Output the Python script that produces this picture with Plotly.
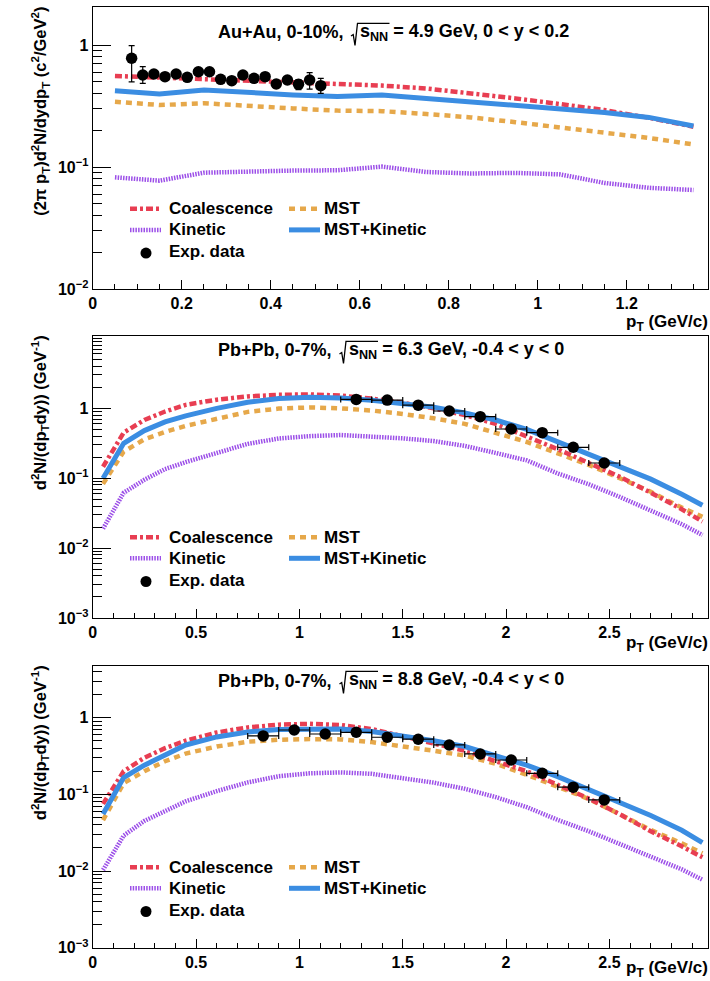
import math
import plotly.graph_objects as go

W, H = 710, 981

# ---------------- Au+Au, 0-10%, 4.9 GeV ----------------
pt_au = [0.05, 0.15, 0.25, 0.35, 0.45, 0.55, 0.65, 0.75, 0.85, 0.95, 1.05, 1.15, 1.25, 1.35]
coal_au = [0.557, 0.54, 0.53, 0.51, 0.495, 0.48, 0.465, 0.44, 0.405, 0.365, 0.328, 0.293, 0.253, 0.214]
mst_au = [0.343, 0.322, 0.333, 0.315, 0.302, 0.29, 0.287, 0.272, 0.255, 0.233, 0.212, 0.192, 0.173, 0.153]
kin_au = [0.0823, 0.0773, 0.0898, 0.092, 0.0935, 0.094, 0.1007, 0.091, 0.0885, 0.0895, 0.087, 0.074, 0.0675, 0.0648]
mstkin_au = [0.422, 0.397, 0.428, 0.405, 0.39, 0.378, 0.39, 0.365, 0.342, 0.322, 0.302, 0.28, 0.255, 0.217]

data_pt_au = [0.0875, 0.1125, 0.1375, 0.1625, 0.1875, 0.2125, 0.2375, 0.2625, 0.2875,
              0.3125, 0.3375, 0.3625, 0.3875, 0.4125, 0.4375, 0.4625, 0.4875, 0.5125]
data_y_au = [0.778, 0.568, 0.578, 0.55, 0.578, 0.543, 0.604, 0.604, 0.523,
             0.51, 0.568, 0.533, 0.55, 0.479, 0.517, 0.476, 0.517, 0.464]
data_eup_au = [0.21, 0.096, 0.035, 0.035, 0.035, 0.035, 0.04, 0.04, 0.035,
               0.035, 0.035, 0.035, 0.035, 0.035, 0.035, 0.045, 0.076, 0.069]
data_edn_au = [0.28, 0.083, 0.035, 0.035, 0.035, 0.035, 0.04, 0.04, 0.035,
               0.035, 0.035, 0.035, 0.035, 0.035, 0.035, 0.045, 0.083, 0.062]

# ---------------- Pb+Pb spectra model grid ----------------
pt_pb = [0.05, 0.15, 0.25, 0.35, 0.45, 0.6, 0.75, 0.9, 1.05, 1.2, 1.35, 1.5, 1.65,
         1.8, 1.95, 2.1, 2.25, 2.4, 2.55, 2.7, 2.85, 2.95]

# Pb+Pb, 0-7%, 6.3 GeV
coal_63 = [0.146, 0.45, 0.68, 0.9, 1.12, 1.33, 1.48, 1.56, 1.58, 1.52, 1.38, 1.2, 1.0,
           0.8, 0.6, 0.4, 0.26, 0.165, 0.105, 0.062, 0.036, 0.024]
mst_63 = [0.083, 0.24, 0.36, 0.46, 0.56, 0.7, 0.89, 0.99, 1.03, 1.0, 0.93, 0.83, 0.72,
          0.6, 0.45, 0.33, 0.227, 0.155, 0.1, 0.064, 0.038, 0.028]
kin_63 = [0.019, 0.062, 0.095, 0.135, 0.17, 0.23, 0.31, 0.37, 0.4, 0.415, 0.4, 0.372, 0.34,
          0.29, 0.23, 0.18, 0.117, 0.082, 0.054, 0.035, 0.022, 0.0154]
mstkin_63 = [0.1, 0.316, 0.48, 0.64, 0.78, 1.0, 1.22, 1.38, 1.44, 1.4, 1.3, 1.18, 1.04,
             0.86, 0.68, 0.5, 0.333, 0.225, 0.148, 0.097, 0.059, 0.041]
data_pt_63 = [1.275, 1.425, 1.575, 1.725, 1.875, 2.025, 2.175, 2.325, 2.475]
data_y_63 = [1.34, 1.31, 1.11, 0.915, 0.759, 0.506, 0.448, 0.277, 0.165]
data_ey_63 = [0.05, 0.05, 0.04, 0.035, 0.03, 0.02, 0.02, 0.012, 0.008]

# Pb+Pb, 0-7%, 8.8 GeV
coal_88 = [0.075, 0.2, 0.3, 0.4, 0.5, 0.64, 0.745, 0.81, 0.83, 0.8, 0.71, 0.57, 0.46,
           0.37, 0.27, 0.2, 0.133, 0.088, 0.055, 0.033, 0.021, 0.0151]
mst_88 = [0.046, 0.14, 0.2, 0.27, 0.34, 0.42, 0.485, 0.515, 0.525, 0.52, 0.48, 0.425, 0.37,
          0.32, 0.25, 0.18, 0.126, 0.087, 0.055, 0.0343, 0.023, 0.017]
kin_88 = [0.0103, 0.029, 0.045, 0.06, 0.081, 0.11, 0.143, 0.172, 0.188, 0.193, 0.185, 0.162, 0.142,
          0.118, 0.092, 0.068, 0.0464, 0.033, 0.0225, 0.0154, 0.0105, 0.0077]
mstkin_88 = [0.0555, 0.165, 0.24, 0.33, 0.44, 0.56, 0.65, 0.7, 0.715, 0.71, 0.66, 0.577, 0.5,
             0.42, 0.32, 0.24, 0.17, 0.116, 0.078, 0.053, 0.034, 0.0235]
data_pt_88 = [0.825, 0.975, 1.125, 1.275, 1.425, 1.575, 1.725, 1.875, 2.025, 2.175, 2.325, 2.475]
data_y_88 = [0.577, 0.69, 0.612, 0.644, 0.555, 0.523, 0.44, 0.336, 0.28, 0.188, 0.124, 0.0845]
data_ey_88 = [0.025, 0.03, 0.025, 0.025, 0.022, 0.02, 0.017, 0.013, 0.011, 0.008, 0.005, 0.004]

dx_bin = 0.075

# panel labels: system/centrality prefix, then the energy/rapidity part after the radical
title_prefix = ["Au+Au, 0-10%,", "Pb+Pb, 0-7%,", "Pb+Pb, 0-7%,"]
title_suffix = [
    "s<sub>NN</sub> = 4.9 GeV, 0 &lt; y &lt; 0.2",
    "s<sub>NN</sub> = 6.3 GeV, -0.4 &lt; y &lt; 0",
    "s<sub>NN</sub> = 8.8 GeV, -0.4 &lt; y &lt; 0",
]
ytitles = [
    "(2π p<sub>T</sub>)d<sup>2</sup>N/dydp<sub>T</sub> (c<sup>2</sup>/GeV<sup>2</sup>)",
    "d<sup>2</sup>N/(dp<sub>T</sub>dy)) (GeV<sup>-1</sup>)",
    "d<sup>2</sup>N/(dp<sub>T</sub>dy)) (GeV<sup>-1</sup>)",
]
xtitle = "p<sub>T</sub> (GeV/c)"
legend_names = ["Coalescence", "MST", "Kinetic", "MST+Kinetic", "Exp. data"]

# styles
FONT = "Liberation Sans, Arial, sans-serif"
C_COAL = "#E83E52"
C_MST = "#E6A84A"
C_KIN = "#9C4FE8"
C_MK = "#3B8DE2"
STY = {
    "coal": dict(color=C_COAL, width=4.5, dash="7px,3px,3px,3px"),
    "mst": dict(color=C_MST, width=4.5, dash="6px,5px"),
    "kin": dict(color=C_KIN, width=4.5, dash="1.5px,1.2px"),
    "mk": dict(color=C_MK, width=5),
}

# frame geometry in pixels
XL, XR = 92.7, 708.0
TOPS = [7.3, 335.7, 665.7]
BOTS = [289.0, 618.0, 947.7]


def px(x):
    return x / W


def py(y):
    return 1 - y / H


fig = go.Figure()

panels = [
    dict(pt=pt_au, coal=coal_au, mst=mst_au, kin=kin_au, mk=mstkin_au,
         dpt=data_pt_au, dy=data_y_au, xerr=None,
         yerr=dict(type="data", array=data_eup_au, arrayminus=data_edn_au, symmetric=False)),
    dict(pt=pt_pb, coal=coal_63, mst=mst_63, kin=kin_63, mk=mstkin_63,
         dpt=data_pt_63, dy=data_y_63, xerr=[dx_bin] * len(data_pt_63),
         yerr=dict(type="data", array=data_ey_63)),
    dict(pt=pt_pb, coal=coal_88, mst=mst_88, kin=kin_88, mk=mstkin_88,
         dpt=data_pt_88, dy=data_y_88, xerr=[dx_bin] * len(data_pt_88),
         yerr=dict(type="data", array=data_ey_88)),
]

for i, p in enumerate(panels):
    xa = "x" if i == 0 else f"x{i+1}"
    ya = "y" if i == 0 else f"y{i+1}"
    for key, name in [("kin", "Kinetic"), ("mst", "MST"), ("coal", "Coalescence"), ("mk", "MST+Kinetic")]:
        fig.add_trace(go.Scatter(x=p["pt"], y=p[key], mode="lines", name=name,
                                 line=STY[key], xaxis=xa, yaxis=ya, showlegend=False))
    yerr = dict(p["yerr"], color="black", thickness=1.2, width=3)
    kw = dict(error_y=yerr)
    if p["xerr"] is not None:
        kw["error_x"] = dict(type="data", array=p["xerr"], color="black", thickness=1.2, width=3)
    fig.add_trace(go.Scatter(x=p["dpt"], y=p["dy"], mode="markers", name="Exp. data",
                             marker=dict(color="black", size=11.5), xaxis=xa, yaxis=ya,
                             showlegend=False, **kw))

tickfont = dict(family=FONT, size=16, color="black", weight="bold")


def log_ticks(lo, hi):
    major, minor = [], []
    for e in range(lo, hi + 1):
        major.append(10.0 ** e)
        for m in range(2, 10):
            minor.append(m * 10.0 ** e)
    return major, minor


def sup_label(v):
    if v == 1:
        return "1"
    e = round(math.log10(v))
    return f"10<sup>−{-e}</sup>"


xranges = [[0, 1.3827], [0, 2.977], [0, 2.977]]
xdt = [0.2, 0.5, 0.5]
xminor = [0.05, 0.1, 0.1]
yranges = [[-2, 0.309], [-3, 1.039], [-3, 0.677]]

layout = dict(width=W, height=H, margin=dict(l=0, r=0, t=0, b=0),
              paper_bgcolor="white", plot_bgcolor="white", template="none",
              showlegend=False)

for i in range(3):
    sx = "" if i == 0 else str(i + 1)
    ydom = [py(BOTS[i]), py(TOPS[i])]
    layout[f"xaxis{sx}"] = dict(
        domain=[px(XL), px(XR)], range=xranges[i], anchor=f"y{sx}",
        showline=True, linecolor="black", linewidth=1, mirror=True,
        showgrid=False, zeroline=False, ticks="inside", ticklen=9, tickwidth=1,
        tickcolor="black", dtick=xdt[i], tick0=0, tickfont=tickfont,
        minor=dict(ticks="inside", dtick=xminor[i], tick0=0, ticklen=5, tickwidth=1, tickcolor="black"),
        automargin=False,
    )
    lo, hi = yranges[i]
    major, minor = log_ticks(int(lo), 0)
    minor = [m for m in minor if m <= 10 ** hi] + ([10.0] if hi > 1 else [])
    layout[f"yaxis{sx}"] = dict(
        domain=ydom, type="log", range=yranges[i], anchor=f"x{sx}",
        showline=True, linecolor="black", linewidth=1, mirror=True,
        showgrid=False, zeroline=False, ticks="inside", ticklen=18, tickwidth=1,
        tickcolor="black", tickmode="array", tickvals=major,
        ticktext=[sup_label(v) for v in major], tickfont=tickfont,
        minor=dict(ticks="inside", tickmode="array", tickvals=minor, ticklen=9, tickwidth=1,
                   tickcolor="black"),
        automargin=False,
    )

fig.update_layout(**layout)

annotations = []
shapes = []
title_y = [32.5, 350.5, 680.5]
# x position of the radical sign and of the text beneath it, per panel
rad_x = [351.0, 339.5, 339.5]
s_x = [358.0, 346.5, 346.5]
row_off = [201.5, 222.6, 244.3]
xtitle_off = [33.5, 26, 21.5]
title_font = dict(family=FONT, size=18, color="black", weight="bold")
leg_font = dict(family=FONT, size=17, color="black", weight="bold")


def path_paper(points):
    segs = []
    for k, (x, y) in enumerate(points):
        segs.append(("M" if k == 0 else "L") + f"{px(x):.5f},{py(y):.5f}")
    return " ".join(segs)


for i in range(3):
    T = TOPS[i]
    ty = title_y[i]
    annotations.append(dict(text=title_prefix[i], x=px(216), y=py(ty), xref="paper", yref="paper",
                            xanchor="left", yanchor="middle", showarrow=False, font=title_font))
    annotations.append(dict(text=title_suffix[i], x=px(s_x[i]), y=py(ty), xref="paper", yref="paper",
                            xanchor="left", yanchor="middle", showarrow=False, font=title_font))
    # square-root sign with its bar over s_NN
    r0 = rad_x[i]
    shapes.append(dict(type="path", xref="paper", yref="paper",
                       path=path_paper([(r0, ty + 3.5), (r0 + 2.2, ty + 2.0), (r0 + 4.0, ty + 13.0),
                                        (r0 + 6.5, ty - 9.2), (s_x[i] + 31.5, ty - 9.2)]),
                       line=dict(color="black", width=1.3)))
    annotations.append(dict(text=ytitles[i], x=px(40), y=py(T - 2), xref="paper", yref="paper",
                            xanchor="center", yanchor="top", textangle=-90, showarrow=False,
                            font=dict(family=FONT, size=16.5, color="black", weight="bold")))
    annotations.append(dict(text=xtitle, x=px(709), y=py(BOTS[i] + xtitle_off[i]), xref="paper",
                            yref="paper", xanchor="right", yanchor="middle", showarrow=False,
                            borderpad=0,
                            font=dict(family=FONT, size=17, color="black", weight="bold")))
    # legend block
    rows = [T + r for r in row_off]
    entries = [
        ("coal", 130, rows[0], legend_names[0], 167),
        ("mst", 289, rows[0], legend_names[1], 322),
        ("kin", 130, rows[1], legend_names[2], 167),
        ("mk", 289, rows[1], legend_names[3], 322),
    ]
    for key, lx, ly, name, tx in entries:
        st = STY[key]
        shapes.append(dict(type="line", xref="paper", yref="paper", x0=px(lx), x1=px(lx + 31),
                           y0=py(ly), y1=py(ly),
                           line=dict(color=st["color"], width=st["width"], dash=st.get("dash", "solid"))))
        annotations.append(dict(text=name, x=px(tx), y=py(ly), xref="paper", yref="paper",
                                xanchor="left", yanchor="middle", showarrow=False, font=leg_font))
    shapes.append(dict(type="circle", xref="paper", yref="paper", xsizemode="pixel", ysizemode="pixel",
                       xanchor=px(146), yanchor=py(rows[2] + 1.5), x0=-5.5, x1=5.5, y0=-5.5, y1=5.5,
                       fillcolor="black", line=dict(color="black", width=0)))
    annotations.append(dict(text=legend_names[4], x=px(167), y=py(rows[2]), xref="paper", yref="paper",
                            xanchor="left", yanchor="middle", showarrow=False, font=leg_font))

fig.update_layout(annotations=annotations, shapes=shapes)
fig.write_html("out.html")
